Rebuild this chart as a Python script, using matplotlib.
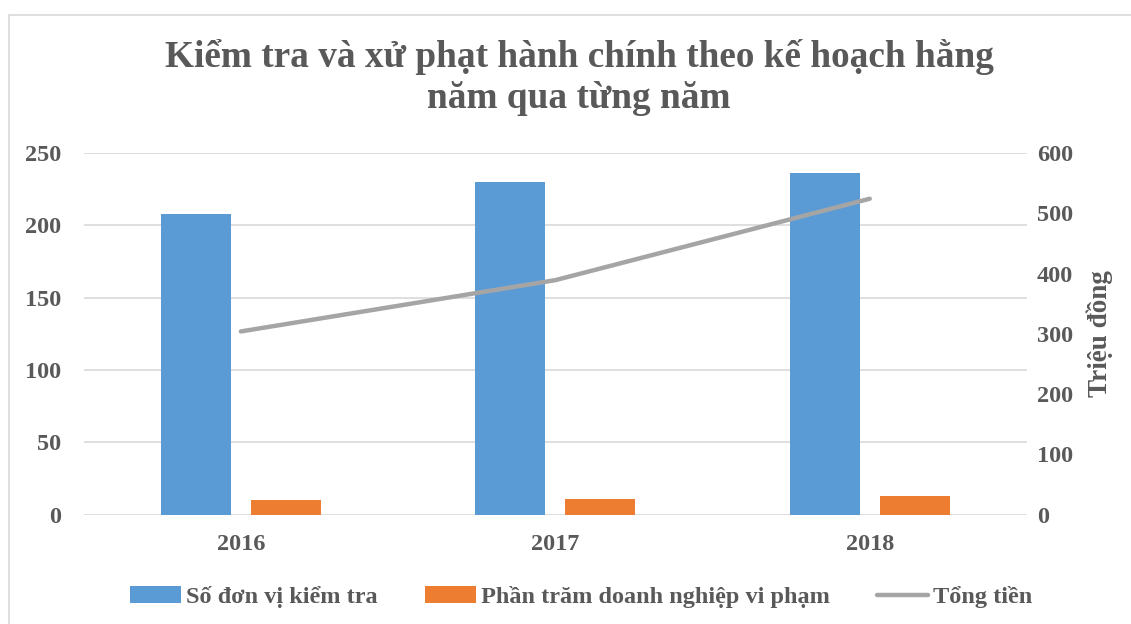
import matplotlib.pyplot as plt
import matplotlib.patches as mpatches
import numpy as np

# data
years = ["2016", "2017", "2018"]
so_don_vi = [208, 230, 236]
phan_tram_dn = [10, 11, 13]
tong_tien = [304, 389, 524]

grey_txt = "#595959"
plt.rcParams["font.family"] = ["Liberation Serif", "DejaVu Serif"]
plt.rcParams["font.weight"] = "bold"

fig = plt.figure(figsize=(11.31, 6.24), dpi=100)
ax = fig.add_axes([0.074, 0.175, 0.834, 0.580])
ax2 = ax.twinx()

# chart border (top and left only visible)
fig.patches.append(mpatches.Rectangle((9 / 1131, -0.05), 1.1, 1 - 15 / 624 + 0.05,
                                      transform=fig.transFigure, fill=False,
                                      edgecolor="#D9D9D9", lw=1.2))

x = np.arange(len(years))
w = 0.223
off = 0.143
b1 = ax.bar(x - off, so_don_vi, w, color="#5B9BD5", label="Số đơn vị kiểm tra", zorder=3)
b2 = ax.bar(x + off, phan_tram_dn, w, color="#ED7D31", label="Phần trăm doanh nghiệp vi phạm", zorder=3)
ln, = ax2.plot(x, tong_tien, color="#A5A5A5", lw=3.2, solid_capstyle="round", label="Tổng tiền")

ax.set_xlim(-0.5, 2.5)
ax.set_ylim(0, 250)
ax.set_yticks(range(0, 251, 50))
ax2.set_ylim(0, 600)
ax2.set_yticks(range(0, 601, 100))
ax.set_xticks(x)
ax.set_xticklabels(years)
ax.grid(axis="y", color="#D9D9D9", lw=1.2, zorder=0)
ax.set_axisbelow(True)

for a in (ax, ax2):
    for s in a.spines.values():
        s.set_visible(False)
    a.tick_params(length=0, labelsize=17.5, labelcolor=grey_txt)
ax.tick_params(axis="y", pad=16)
ax.tick_params(axis="x", pad=14)
ax2.tick_params(axis="y", pad=7)

ax2.set_ylabel("Triệu đồng", fontsize=19.5, color=grey_txt, fontweight="bold", labelpad=10)

fig.suptitle("Kiểm tra và xử phạt hành chính theo kế hoạch hằng\nnăm qua từng năm",
             fontsize=26.8, fontweight="bold", color=grey_txt, x=0.512, y=0.937,
             linespacing=1.22)

fig.legend(handles=[b1, b2, ln], loc="center", bbox_to_anchor=(0.514, 0.043), ncol=3,
           frameon=False, fontsize=17.5, labelcolor=grey_txt, handlelength=2.1,
           handletextpad=0.2, columnspacing=1.95)

fig.savefig("out.png", dpi=100)
